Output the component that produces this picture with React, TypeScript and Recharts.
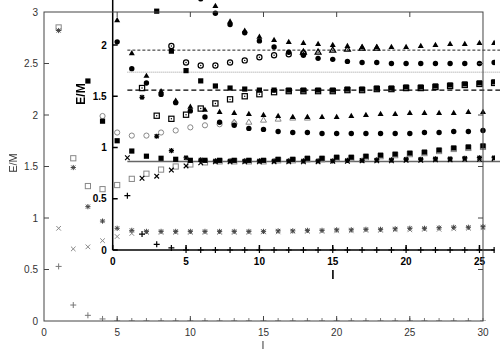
import React from "react";
import { ScatterChart, Scatter, XAxis, YAxis, ReferenceLine } from "recharts";

const FONT = '"Liberation Sans", Arial, Helvetica, sans-serif';

// angular momentum l
const ells = [1, 2, 3, 4, 5, 6, 7, 8, 9, 10, 11, 12, 13, 14, 15, 16, 17, 18, 19, 20, 21, 22, 23, 24, 25, 26, 27, 28, 29, 30];

// E/M for each marker type, index = l - 1 (null where no point is shown)
const triFilled = [null, null, null, null, 2.92, 2.6, 2.38, 2.23, 2.14, 2.08, 2.05, 2.03, 2.02, 2.01, 2.0, 1.99, 1.98, 1.98, 1.98, 1.98, 1.99, 2.0, 2.01, 2.01, 2.02, 2.02, 2.02, 2.02, 2.03, 2.03];
const triOpen = [null, null, null, null, null, null, null, null, null, null, null, null, 1.93, 1.93, 1.95, 1.96, 1.97, 1.97, null, null, null, null, null, null, null, null, null, null, null, null];
const circFilled = [null, null, null, null, 2.71, 2.45, 2.31, 2.2, 2.12, 2.04, 1.98, 1.93, 1.9, 1.87, 1.86, 1.84, 1.83, 1.83, 1.82, 1.82, 1.82, 1.82, 1.82, 1.82, 1.82, 1.83, 1.83, 1.84, 1.84, 1.85];
const circOpen = [null, null, null, 1.99, 1.83, 1.8, 1.8, 1.83, 1.85, 1.88, 1.9, 1.91, 1.92, null, null, null, null, null, null, null, null, null, null, null, null, null, null, null, null, null];
const sqFilled = [null, null, 2.33, 1.94, 1.75, 1.65, 1.6, 1.58, 1.57, 1.56, 1.56, 1.56, 1.56, 1.56, 1.56, 1.57, 1.57, 1.58, 1.58, 1.59, 1.59, 1.6, 1.61, 1.62, 1.63, 1.64, 1.66, 1.68, 1.69, 1.7];
const sqOpen = [2.85, 1.58, 1.31, 1.28, 1.32, 1.38, 1.43, 1.47, 1.5, 1.52, 1.54, 1.55, 1.55, 1.55, 1.55, 1.56, 1.56, 1.57, 1.57, 1.58, 1.58, 1.59, 1.6, 1.61, 1.62, 1.63, 1.65, 1.67, 1.68, 1.69];
const asterisk = [2.82, 1.49, 1.11, 0.97, 0.9, 0.88, 0.87, 0.87, 0.87, 0.87, 0.87, 0.87, 0.87, 0.87, 0.87, 0.875, 0.875, 0.88, 0.88, 0.885, 0.885, 0.89, 0.89, 0.895, 0.9, 0.9, 0.905, 0.91, 0.91, 0.915];
const cross = [0.9, 0.7, 0.72, 0.78, 0.82, 0.85, 0.86, 0.86, 0.86, 0.86, 0.86, 0.86, 0.86, 0.86, 0.865, 0.865, 0.87, 0.87, 0.87, 0.875, 0.875, 0.88, 0.88, 0.885, 0.885, 0.89, 0.89, 0.895, 0.9, 0.905];
const plus = [0.53, 0.155, 0.055, 0.02, 0, 0, 0, 0, 0, 0, 0, 0, 0, 0, 0, 0, 0, 0, 0, 0, 0, 0, 0, 0, 0, 0, 0, 0, 0, 0];

// horizontal reference levels drawn in the inset
const insetLevels = [1.95, 1.735, 1.56, 0.863];

const mainXTicks = [0, 5, 10, 15, 20, 25, 30];
const mainYTicks = [0, 0.5, 1, 1.5, 2, 2.5, 3];
const insetXTicks = [0, 5, 10, 15, 20, 25];
const insetYTicks = [0, 0.5, 1, 1.5, 2];

// one chart holds both frames; it sits 70px above the page top
const SHIFT = 70;
const MAIN = { x0: 44, pxX: 14.633, y0: 321, pxY: 103 };
const INSET = { x0: 112.7, pxX: 14.67, y0: 250, pxY: 102.5 };
const PLOT = { left: 44, right: 495, top: -57.5, bottom: 321 };

const mainXDomain = [(PLOT.left - MAIN.x0) / MAIN.pxX, (PLOT.right - MAIN.x0) / MAIN.pxX];
const mainYDomain = [(MAIN.y0 - PLOT.bottom) / MAIN.pxY, (MAIN.y0 - PLOT.top) / MAIN.pxY];
const insetXDomain = [(PLOT.left - INSET.x0) / INSET.pxX, (PLOT.right - INSET.x0) / INSET.pxX];
const insetYDomain = [(INSET.y0 - PLOT.bottom) / INSET.pxY, (INSET.y0 - PLOT.top) / INSET.pxY];

type Kind = "triF" | "triO" | "circF" | "circO" | "sqF" | "sqO" | "ast" | "cross" | "plus";

const series: { kind: Kind; vals: (number | null)[] }[] = [
  { kind: "sqO", vals: sqOpen },
  { kind: "circO", vals: circOpen },
  { kind: "triO", vals: triOpen },
  { kind: "cross", vals: cross },
  { kind: "plus", vals: plus },
  { kind: "ast", vals: asterisk },
  { kind: "sqF", vals: sqFilled },
  { kind: "circF", vals: circFilled },
  { kind: "triF", vals: triFilled },
];

const toPoints = (vals: (number | null)[], maxL: number) =>
  ells.map((l, i) => ({ l, v: vals[i] })).filter((p) => p.v != null && p.l <= maxL);

function Mark({ cx, cy, kind, color, sw, dot }: any) {
  if (cx == null || cy == null) return null;
  const c = <circle cx={cx} cy={cy} r={0.7} fill={color} />;
  switch (kind as Kind) {
    case "triF":
      return <path d={`M${cx},${cy - 3.2}L${cx + 3},${cy + 2}L${cx - 3},${cy + 2}Z`} fill={color} />;
    case "triO":
      return (
        <g>
          <path d={`M${cx},${cy - 3.2}L${cx + 3},${cy + 2}L${cx - 3},${cy + 2}Z`} fill="none" stroke={color} strokeWidth={sw} />
          {dot && c}
        </g>
      );
    case "circF":
      return <circle cx={cx} cy={cy} r={2.7} fill={color} />;
    case "circO":
      return (
        <g>
          <circle cx={cx} cy={cy} r={2.6} fill="none" stroke={color} strokeWidth={sw} />
          {dot && c}
        </g>
      );
    case "sqF":
      return <rect x={cx - 2.6} y={cy - 2.6} width={5.2} height={5.2} fill={color} />;
    case "sqO":
      return (
        <g>
          <rect x={cx - 2.6} y={cy - 2.6} width={5.2} height={5.2} fill="none" stroke={color} strokeWidth={sw} />
          {dot && c}
        </g>
      );
    case "ast":
      return (
        <path
          d={`M${cx - 2.6},${cy}H${cx + 2.6}M${cx},${cy - 2.6}V${cy + 2.6}M${cx - 2},${cy - 2}L${cx + 2},${cy + 2}M${cx - 2},${cy + 2}L${cx + 2},${cy - 2}`}
          stroke={color}
          strokeWidth={sw}
        />
      );
    case "cross":
      return <path d={`M${cx - 2.3},${cy - 2.3}L${cx + 2.3},${cy + 2.3}M${cx - 2.3},${cy + 2.3}L${cx + 2.3},${cy - 2.3}`} stroke={color} strokeWidth={sw} />;
    case "plus":
      return <path d={`M${cx - 3},${cy}H${cx + 3}M${cx},${cy - 3}V${cy + 3}`} stroke={color} strokeWidth={sw} />;
  }
  return null;
}

// colours of the big frame: open markers are light grey
const mainInk: Record<Kind, string> = {
  triF: "#000", triO: "#888", circF: "#000", circO: "#888", sqF: "#000", sqO: "#888",
  ast: "#444", cross: "#888", plus: "#777",
};

const mainTick = { fill: "#333", fontSize: 10, fontFamily: FONT };

// inset ticks are drawn at the inset's own axis lines, not at the plot edge
function InsetYTick(p: any) {
  const y = p.y;
  return (
    <g>
      <line x1={INSET.x0} x2={INSET.x0 + 5} y1={y} y2={y} stroke="#000" strokeWidth={1.5} />
      <text x={INSET.x0 - 6} y={y} textAnchor="end" dominantBaseline="central" fontFamily={FONT} fontSize={10}
        fontWeight="bold" fill="#000">{p.payload.value}</text>
    </g>
  );
}

function InsetXTick(p: any) {
  const x = p.x;
  const base = INSET.y0 + SHIFT;
  return (
    <g>
      <line x1={x} x2={x} y1={base} y2={base - 5} stroke="#000" strokeWidth={1.5} />
      <text x={x} y={base + 11.5} textAnchor="middle" dominantBaseline="central" fontFamily={FONT} fontSize={10}
        fontWeight="bold" fill="#000">{p.payload.value}</text>
    </g>
  );
}

function Chart() {
  return (
    <ScatterChart width={510} height={420} margin={{ top: 0.5, right: 3, bottom: 0, left: 0 }}>
      <XAxis xAxisId="m" type="number" dataKey="l" domain={mainXDomain} ticks={mainXTicks} interval={0} allowDataOverflow
        height={29} tickSize={-5} tickMargin={12.5} axisLine={false} tickLine={false} tick={mainTick} />
      <YAxis yAxisId="m" type="number" dataKey="v" domain={mainYDomain} ticks={mainYTicks} interval={0} allowDataOverflow
        width={44} tickSize={-5} tickMargin={11} axisLine={false} tickLine={false} tick={mainTick} />
      <XAxis xAxisId="i" orientation="top" type="number" dataKey="l" domain={insetXDomain} ticks={insetXTicks}
        interval={0} allowDataOverflow height={12} axisLine={false} tickLine={false}
        tick={(p: any) => <InsetXTick {...p} />} />
      <YAxis yAxisId="i" orientation="right" type="number" dataKey="v" domain={insetYDomain} ticks={insetYTicks}
        interval={0} allowDataOverflow width={12} axisLine={false} tickLine={false}
        tick={(p: any) => <InsetYTick {...p} />} />

      {/* inset axes and levels */}
      <ReferenceLine xAxisId="i" yAxisId="i" segment={[{ x: 0, y: 0 }, { x: 0, y: 3 }]} stroke="#000" strokeWidth={1.5}
        ifOverflow="visible" />
      <ReferenceLine xAxisId="i" yAxisId="i" segment={[{ x: 0, y: 0 }, { x: 26, y: 0 }]} stroke="#000" strokeWidth={1.5}
        ifOverflow="visible" />
      <ReferenceLine xAxisId="i" yAxisId="i" segment={[{ x: 1, y: insetLevels[0] }, { x: 27, y: insetLevels[0] }]}
        ifOverflow="visible" stroke="#222" strokeWidth={1} strokeDasharray="3 2" />
      <ReferenceLine xAxisId="i" yAxisId="i" segment={[{ x: 1, y: insetLevels[1] }, { x: 27, y: insetLevels[1] }]}
        ifOverflow="visible" stroke="#999" strokeWidth={1} strokeDasharray="1 1" />
      <ReferenceLine xAxisId="i" yAxisId="i" segment={[{ x: 1, y: insetLevels[2] }, { x: 27, y: insetLevels[2] }]}
        ifOverflow="visible" stroke="#000" strokeWidth={1.2} strokeDasharray="5 3" />
      <ReferenceLine xAxisId="i" yAxisId="i" segment={[{ x: 1, y: insetLevels[3] }, { x: 27, y: insetLevels[3] }]}
        ifOverflow="visible" stroke="#666" strokeWidth={1.5} />

      {series.map((s) => (
        <Scatter key={`m-${s.kind}`} xAxisId="m" yAxisId="m" data={toPoints(s.vals, 30)} isAnimationActive={false}
          shape={(p: any) => <Mark cx={p.cx} cy={p.cy} kind={s.kind} color={mainInk[s.kind]} sw={1} dot={false} />} />
      ))}
      {series.map((s) => (
        <Scatter key={`i-${s.kind}`} xAxisId="i" yAxisId="i" data={toPoints(s.vals, 26)} isAnimationActive={false}
          shape={(p: any) => <Mark cx={p.cx} cy={p.cy} kind={s.kind} color="#000" sw={1.2} dot={true} />} />
      ))}
    </ScatterChart>
  );
}

// big frame (border + inward ticks on all four sides) and axis titles, on top of the chart
const fx = (t: number) => MAIN.x0 + t * MAIN.pxX;
const fy = (v: number) => MAIN.y0 - v * MAIN.pxY;

function Overlay() {
  const left = fx(0), right = fx(30), top = fy(3), bottom = fy(0);
  return (
    <svg width={500} height={350} style={{ position: "absolute", left: 0, top: 0, willChange: "transform" }} fontFamily={FONT}>
      <g stroke="#444" strokeWidth={1} fill="none">
        <rect x={left} y={top} width={right - left} height={bottom - top} />
        {mainXTicks.slice(1, -1).map((t) => (
          <g key={`x${t}`}>
            <line x1={fx(t)} x2={fx(t)} y1={bottom} y2={bottom - 5} />
            <line x1={fx(t)} x2={fx(t)} y1={top} y2={top + 5} />
          </g>
        ))}
        {mainYTicks.slice(1, -1).map((v) => (
          <g key={`y${v}`}>
            <line x1={left} x2={left + 5} y1={fy(v)} y2={fy(v)} />
            <line x1={right} x2={right - 5} y1={fy(v)} y2={fy(v)} />
          </g>
        ))}
      </g>
      <text x={12.5} y={163} fontSize={11} fill="#333" textAnchor="middle" dominantBaseline="central"
        transform="rotate(-90 12.5 163)">E/M</text>
      <text x={263} y={345} fontSize={11} fill="#333" textAnchor="middle" dominantBaseline="central">l</text>
      <text x={80.5} y={94} fontSize={12} fontWeight="bold" fill="#000" textAnchor="middle" dominantBaseline="central"
        transform="rotate(-90 80.5 94)">E/M</text>
      <text x={333} y={275} fontSize={12} fontWeight="bold" fill="#000" textAnchor="middle" dominantBaseline="central">l</text>
    </svg>
  );
}

export default function App() {
  return (
    <div style={{ position: "absolute", left: 0, top: 0, width: 500, height: 350, overflow: "hidden", background: "#fff" }}>
      <div style={{ position: "absolute", left: 0, top: -SHIFT }}>
        <Chart />
      </div>
      <Overlay />
    </div>
  );
}
